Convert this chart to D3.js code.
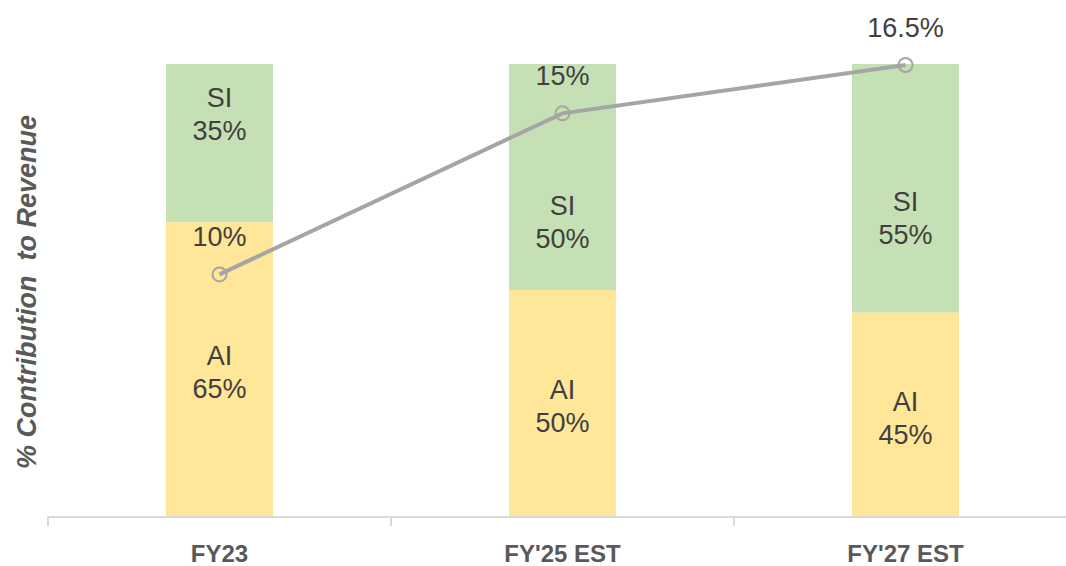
<!DOCTYPE html>
<html>
<head>
<meta charset="utf-8">
<script src="https://cdn.jsdelivr.net/npm/d3@7"></script>
<style>
  html, body { margin: 0; padding: 0; background: #fff; }
  svg { display: block; }
</style>
</head>
<body>
<svg id="chart" width="1066" height="566"></svg>
<script>
// ---- data ----
const categories = ["FY23", "FY'25 EST", "FY'27 EST"];
const aiShare = [65, 50, 45];          // % of revenue, AI
const siShare = [35, 50, 55];          // % of revenue, SI
const marginPct = [10, 15, 16.5];      // line series
const siLabelAt = [89, 65, 66];        // where the SI labels sit (value units)
const yTitle = "% Contribution  to Revenue";

// ---- layout ----
const svg = d3.select("#chart");
const W = 1066, H = 566;
const plot = { left: 48, right: 1077, top: 64, bottom: 517 };

const x = d3.scaleBand().domain(categories).range([plot.left, plot.right]).padding(0);
const y = d3.scaleLinear().domain([0, 100]).range([plot.bottom - 1, plot.top]);
const y2 = d3.scaleLinear().domain([2.5, 16.5]).range([plot.bottom - 1, plot.top + 1]);
const barW = x.bandwidth() * 0.312;
const cx = c => x(c) + x.bandwidth() / 2;

const colors = { ai: "#FFE699", si: "#C5E0B4", line: "#A5A5A5", label: "#404040", axis: "#595959" };
const labelFont = "'Liberation Sans', Arial, sans-serif";

// stacked bars
const rows = categories.map((c, i) => ({ cat: c, AI: aiShare[i], SI: siShare[i] }));
const stack = d3.stack().keys(["AI", "SI"])(rows);
const g = svg.append("g");
g.selectAll("g.series").data(stack).join("g")
  .attr("fill", d => d.key === "AI" ? colors.ai : colors.si)
  .selectAll("rect").data(d => d).join("rect")
  .attr("x", d => cx(d.data.cat) - barW / 2)
  .attr("width", barW)
  .attr("y", d => y(d[1]))
  .attr("height", d => y(d[0]) - y(d[1]));

// x axis
const xAxis = d3.axisBottom(x).tickSize(9).tickFormat("");
const ax = svg.append("g").attr("transform", `translate(0,${plot.bottom})`).call(xAxis);
ax.select(".domain").attr("stroke", "#D9D9D9").attr("stroke-width", 2)
  .attr("d", `M${plot.left},9V0H${W}`);
ax.selectAll(".tick").remove();
// tick marks at category boundaries
const bounds = categories.map(c => x(c));
svg.append("g").selectAll("line").data(bounds).join("line")
  .attr("x1", d => d).attr("x2", d => d)
  .attr("y1", plot.bottom).attr("y2", plot.bottom + 9)
  .attr("stroke", "#D9D9D9").attr("stroke-width", 2);

// category labels
svg.append("g").selectAll("text").data(categories).join("text")
  .attr("x", d => cx(d)).attr("y", 562)
  .attr("text-anchor", "middle")
  .attr("font-family", "'Liberation Sans Narrow', 'Liberation Sans', Arial, sans-serif")
  .attr("font-weight", "bold").attr("font-size", 24)
  .attr("fill", colors.axis)
  .text(d => d);

// y title
svg.append("text")
  .attr("transform", `translate(36,292) rotate(-90)`)
  .attr("text-anchor", "middle")
  .attr("font-family", labelFont)
  .attr("font-weight", "bold").attr("font-style", "italic")
  .attr("font-size", 27).attr("fill", colors.axis)
  .attr("xml:space", "preserve")
  .style("white-space", "pre")
  .text(yTitle);

// bar labels
function twoLine(sel, xPos, yMid, l1, l2) {
  const t = sel.append("text").attr("text-anchor", "middle")
    .attr("font-family", labelFont).attr("font-size", 27).attr("fill", colors.label);
  t.append("tspan").attr("x", xPos).attr("y", yMid - 16.5 + 9.7).text(l1);
  t.append("tspan").attr("x", xPos).attr("y", yMid + 16.5 + 9.7).text(l2);
}
const lab = svg.append("g");
categories.forEach((c, i) => {
  twoLine(lab, cx(c), y(aiShare[i] / 2) + 3, "AI", aiShare[i] + "%");
  twoLine(lab, cx(c), y(siLabelAt[i]), "SI", siShare[i] + "%");
});

// line series
const pts = categories.map((c, i) => ({ x: cx(c), v: marginPct[i] }));
svg.append("path").datum(pts)
  .attr("fill", "none").attr("stroke", colors.line).attr("stroke-width", 4)
  .attr("d", d3.line().x(d => d.x).y(d => y2(d.v)));
svg.append("g").selectAll("circle").data(pts).join("circle")
  .attr("cx", d => d.x).attr("cy", d => y2(d.v)).attr("r", 7)
  .attr("fill", "none").attr("stroke", colors.line).attr("stroke-width", 2);
svg.append("g").selectAll("text").data(pts).join("text")
  .attr("x", d => d.x).attr("y", d => y2(d.v) - 28)
  .attr("text-anchor", "middle")
  .attr("font-family", labelFont).attr("font-size", 27).attr("fill", colors.label)
  .text(d => d.v + "%");
</script>
</body>
</html>
